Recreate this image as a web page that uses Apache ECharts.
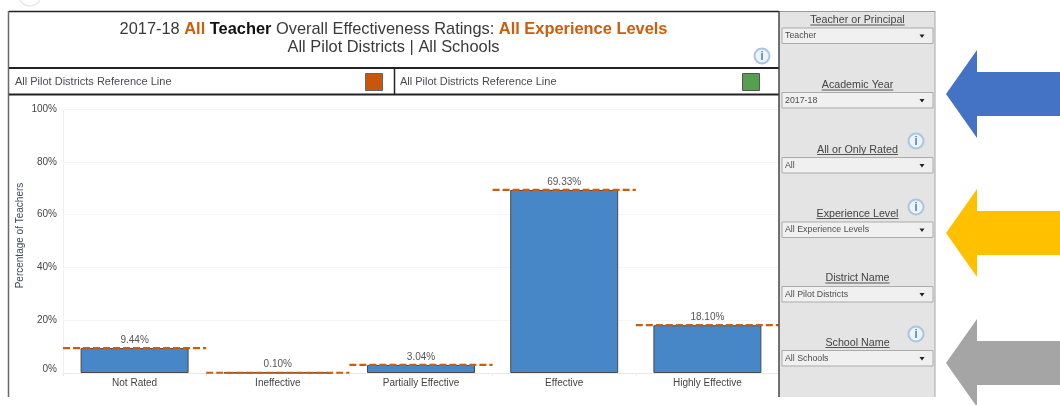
<!DOCTYPE html>
<html>
<head>
<meta charset="utf-8">
<style>html,body{margin:0;padding:0;background:#fff}#c{width:1060px;height:405px}</style>
<script src="https://cdn.jsdelivr.net/npm/echarts@6/dist/echarts.min.js"></script>
</head>
<body>
<div id="c"></div>
<script>
const categories = ['Not Rated', 'Ineffective', 'Partially Effective', 'Effective', 'Highly Effective'];
const ratings = [9.44, 0.10, 3.04, 69.33, 18.10];
const referenceLine = [9.44, 0.10, 3.04, 69.33, 18.10];
const yTicks = [0, 20, 40, 60, 80, 100];
const legendLabels = ['All Pilot Districts Reference Line', 'All Pilot Districts Reference Line'];
const filterLabels = ['Teacher or Principal', 'Academic Year', 'All or Only Rated', 'Experience Level', 'District Name', 'School Name'];
const filterValues = ['Teacher', '2017-18', 'All', 'All Experience Levels', 'All Pilot Districts', 'All Schools'];

const FONT = '"Liberation Sans", Arial, sans-serif';
const ORANGE = '#cc5c0e';
const g = [];
const rect = (x, y, w, h, fill, stroke, lw) => g.push({type:'rect', z:10, silent:true, shape:{x, y, width:w, height:h}, style:{fill, stroke:stroke||null, lineWidth:lw||0}});
const line = (x1, y1, x2, y2, stroke, lw) => g.push({type:'line', z:10, silent:true, shape:{x1, y1, x2, y2}, style:{stroke, lineWidth:lw||1}});
const text = (x, y, t, size, fill, align) => g.push({type:'text', z:10, silent:true, x, y, style:{text:t, font:size+'px '+FONT, fill, align:align||'left', verticalAlign:'middle'}});
const arrow = (tipY, fill) => g.push({type:'polygon', z:10, silent:true, shape:{points:[[946,tipY],[977,tipY-44],[977,tipY-22],[1060,tipY-22],[1060,tipY+22],[977,tipY+22],[977,tipY+44]]}, style:{fill}});
const info = (x, y) => {
  g.push({type:'circle', z:10, silent:true, shape:{cx:x, cy:y, r:7.5}, style:{fill:'#eef4fa', stroke:'#a9c5e3', lineWidth:2}});
  g.push({type:'text', z:11, silent:true, x, y, style:{text:'i', font:'bold 13px '+FONT, fill:'#5b93cc', align:'center', verticalAlign:'middle'}});
};

// side panel
rect(779, 11, 156, 386, '#e4e4e4');
line(935, 11, 935, 397, '#a6a6a6', 1);
line(779, 11.5, 935, 11.5, '#9a9a9a', 1);
// frame
line(8.5, 11, 8.5, 397, '#6a6a6a', 1.5);
line(9, 11.5, 779, 11.5, '#222', 1.5);
line(9, 68, 779, 68, '#222', 2);
line(9, 94.5, 779, 94.5, '#222', 2);
line(394.5, 68, 394.5, 94, '#222', 1.5);
line(779, 11, 779, 397, '#444', 1.5);
// legend strip
text(15, 82, legendLabels[0], 11, '#4a4a55');
text(400, 82, legendLabels[1], 11, '#4a4a55');
rect(365.5, 73.5, 17, 17, '#c8560c', '#666', 1);
rect(742.5, 73.5, 17, 17, '#55a04e', '#555', 1);
info(762, 56);

// filters
const labelY = [19.5, 84.5, 149, 213, 277.5, 342];
const boxY = [28, 92.5, 157.5, 222, 286.5, 350.5];
filterLabels.forEach((t, i) => {
  text(857.5, labelY[i] + 1, t, 10.7, '#444', 'center');
  const w = echarts.format.getTextRect ? echarts.format.getTextRect(t, '10.7px '+FONT).width : t.length * 5;
  line(857.5 - w/2, labelY[i] + 5.5, 857.5 + w/2, labelY[i] + 5.5, '#555', 1);
  rect(782, boxY[i], 151, 15.5, '#f0f0f0', '#ababab', 1);
  text(785, boxY[i] + 8, filterValues[i], 8.8, '#4d4d4d');
  const ay = boxY[i] + 6.5;
  g.push({type:'polygon', z:10, silent:true, shape:{points:[[919.5,ay],[924.5,ay],[922,ay+3.5]]}, style:{fill:'#222'}});
});
info(916, 141); info(916, 207); info(916, 334);

// arrows
arrow(94, '#4472c4');
arrow(233, '#ffc000');
arrow(363, '#a5a5a5');
// fragment at the top edge
g.push({type:'arc', z:10, silent:true, shape:{cx:30, cy:-5, r:11, startAngle:0.2, endAngle:Math.PI-0.2}, style:{stroke:'#e6e8ee', lineWidth:1.5, fill:null}});

const chart = echarts.init(document.getElementById('c'), null, {renderer:'canvas'});
chart.setOption({
  animation:false,
  backgroundColor:'#fff',
  textStyle:{fontFamily:FONT},
  title:{
    left:388.5, top:15.5, textAlign:'center',
    text:'{n|2017-18 }{o|All }{b|Teacher}{n| Overall Effectiveness Ratings: }{o|All Experience Levels}\n{n|All Pilot Districts | All Schools}',
    textStyle:{fontWeight:'normal', rich:{
      n:{fontSize:16.4, color:'#3a3a3a', fontWeight:'normal', fontFamily:FONT, lineHeight:18},
      o:{fontSize:16.4, color:ORANGE, fontWeight:'bold', fontFamily:FONT, lineHeight:18},
      b:{fontSize:16.4, color:'#111', fontWeight:'bold', fontFamily:FONT, lineHeight:18}
    }}
  },
  grid:{left:63, right:281, top:109, bottom:32},
  xAxis:{
    type:'category', data:categories,
    axisLine:{lineStyle:{color:'#e8e8e8'}},
    axisTick:{show:true, length:3, lineStyle:{color:'#ececec'}},
    axisLabel:{fontSize:10, color:'#444', margin:5, interval:0}
  },
  yAxis:{
    type:'value', min:yTicks[0], max:yTicks[yTicks.length-1], interval:20,
    name:'Percentage of Teachers', nameLocation:'middle', nameGap:38, nameMoveOverlap:false,
    nameTextStyle:{fontSize:10, color:'#3d4a5c', padding:[0,0,0,11]},
    axisLine:{show:true, lineStyle:{color:'#f0f0f0'}},
    axisTick:{show:false},
    splitLine:{lineStyle:{color:'#f5f5f5'}},
    axisLabel:{fontSize:10, color:'#444', margin:6,
      formatter:v => v === 0 ? '{z|0%}' : v + '%',
      rich:{z:{fontSize:10, color:'#444', padding:[0,0,8,0]}}}
  },
  series:[
    {
      type:'bar', data:ratings, barWidth:108,
      itemStyle:{color:'#4787c7', borderColor:'#4a4a4a', borderWidth:1},
      label:{show:true, position:'top', distance:3, fontSize:10, color:'#555', formatter:p => p.value.toFixed(2) + '%'}
    },
    {
      type:'custom', data:referenceLine.map((v, i) => [i, v]), z:5, silent:true,
      encode:{x:0, y:1},
      renderItem:(params, api) => {
        const c = api.coord([api.value(0), api.value(1)]);
        const w = api.size([1, 0])[0];
        return {type:'line', shape:{x1:c[0]-w/2, y1:c[1], x2:c[0]+w/2, y2:c[1]},
          style:{stroke:ORANGE, lineWidth:2.2, lineDash:[7,3], fill:null}};
      }
    }
  ],
  graphic:{elements:g}
});
</script>
</body>
</html>
